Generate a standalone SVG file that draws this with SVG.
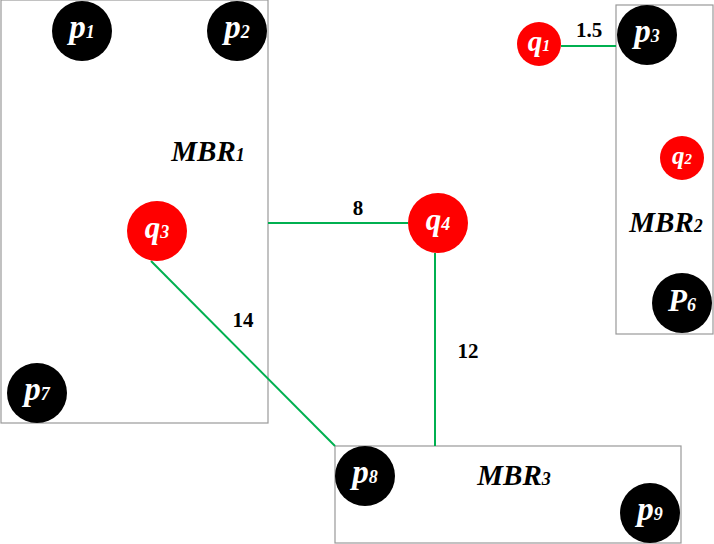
<svg xmlns="http://www.w3.org/2000/svg" width="714" height="544" viewBox="0 0 714 544">
<style>
.mbr{fill:none;stroke:#999;stroke-width:1.2}
.p{fill:#000}
.q{fill:#f00}
.lbl{font-family:"Liberation Serif",serif;font-weight:bold;font-style:italic;fill:#fff;text-anchor:middle}
.mt{font-family:"Liberation Serif",serif;font-weight:bold;font-style:italic;fill:#000;text-anchor:middle}
.num{font-family:"Liberation Serif",serif;font-weight:bold;fill:#000;font-size:21px;text-anchor:middle}
.edge{stroke:#00b050;stroke-width:2;fill:none}
</style>
<rect width="714" height="544" fill="#fff"/>
<g id="mbr1"><rect class="mbr" x="1" y="0" width="267" height="423"/><text class="mt" x="208" y="161" font-size="29">MBR<tspan font-size="18">1</tspan></text></g>
<g id="mbr2"><rect class="mbr" x="616" y="5" width="97" height="329"/><text class="mt" x="666" y="232" font-size="29">MBR<tspan font-size="18">2</tspan></text></g>
<g id="mbr3"><rect class="mbr" x="335" y="446" width="346" height="97"/><text class="mt" x="514" y="485" font-size="29">MBR<tspan font-size="18">3</tspan></text></g>
<g id="edges">
<line class="edge" x1="561" y1="46" x2="616" y2="46"/>
<line class="edge" x1="268" y1="223" x2="408" y2="223"/>
<line class="edge" x1="435" y1="253" x2="435" y2="446"/>
<line class="edge" x1="151" y1="261" x2="335" y2="446"/>
<text class="num" x="589" y="37">1.5</text>
<text class="num" x="358" y="215">8</text>
<text class="num" x="243" y="327">14</text>
<text class="num" x="468" y="358">12</text>
</g>
<g id="p1"><circle class="p" cx="82" cy="31" r="30"/><text class="lbl" x="82" y="38" font-size="33">p<tspan font-size="18">1</tspan></text></g>
<g id="p2"><circle class="p" cx="237" cy="31" r="30"/><text class="lbl" x="237" y="38" font-size="33">p<tspan font-size="18">2</tspan></text></g>
<g id="p3"><circle class="p" cx="647" cy="35" r="30"/><text class="lbl" x="647" y="42" font-size="33">p<tspan font-size="18">3</tspan></text></g>
<g id="q1"><circle class="q" cx="539" cy="44" r="22"/><text class="lbl" x="539" y="51" font-size="29">q<tspan font-size="16">1</tspan></text></g>
<g id="q2"><circle class="q" cx="682" cy="158" r="22"/><text class="lbl" x="682" y="164" font-size="25">q<tspan font-size="15">2</tspan></text></g>
<g id="q3"><circle class="q" cx="157" cy="231" r="30"/><text class="lbl" x="157" y="238" font-size="31">q<tspan font-size="18">3</tspan></text></g>
<g id="q4"><circle class="q" cx="438" cy="223" r="30"/><text class="lbl" x="438" y="230" font-size="31">q<tspan font-size="18">4</tspan></text></g>
<g id="p6"><circle class="p" cx="682" cy="303" r="30"/><text class="lbl" x="682" y="311" font-size="31">P<tspan font-size="18">6</tspan></text></g>
<g id="p7"><circle class="p" cx="37" cy="393" r="30"/><text class="lbl" x="37" y="400" font-size="33">p<tspan font-size="18">7</tspan></text></g>
<g id="p8"><circle class="p" cx="365" cy="476" r="30"/><text class="lbl" x="365" y="483" font-size="33">p<tspan font-size="18">8</tspan></text></g>
<g id="p9"><circle class="p" cx="650" cy="513" r="30"/><text class="lbl" x="650" y="520" font-size="33">p<tspan font-size="18">9</tspan></text></g>
</svg>
